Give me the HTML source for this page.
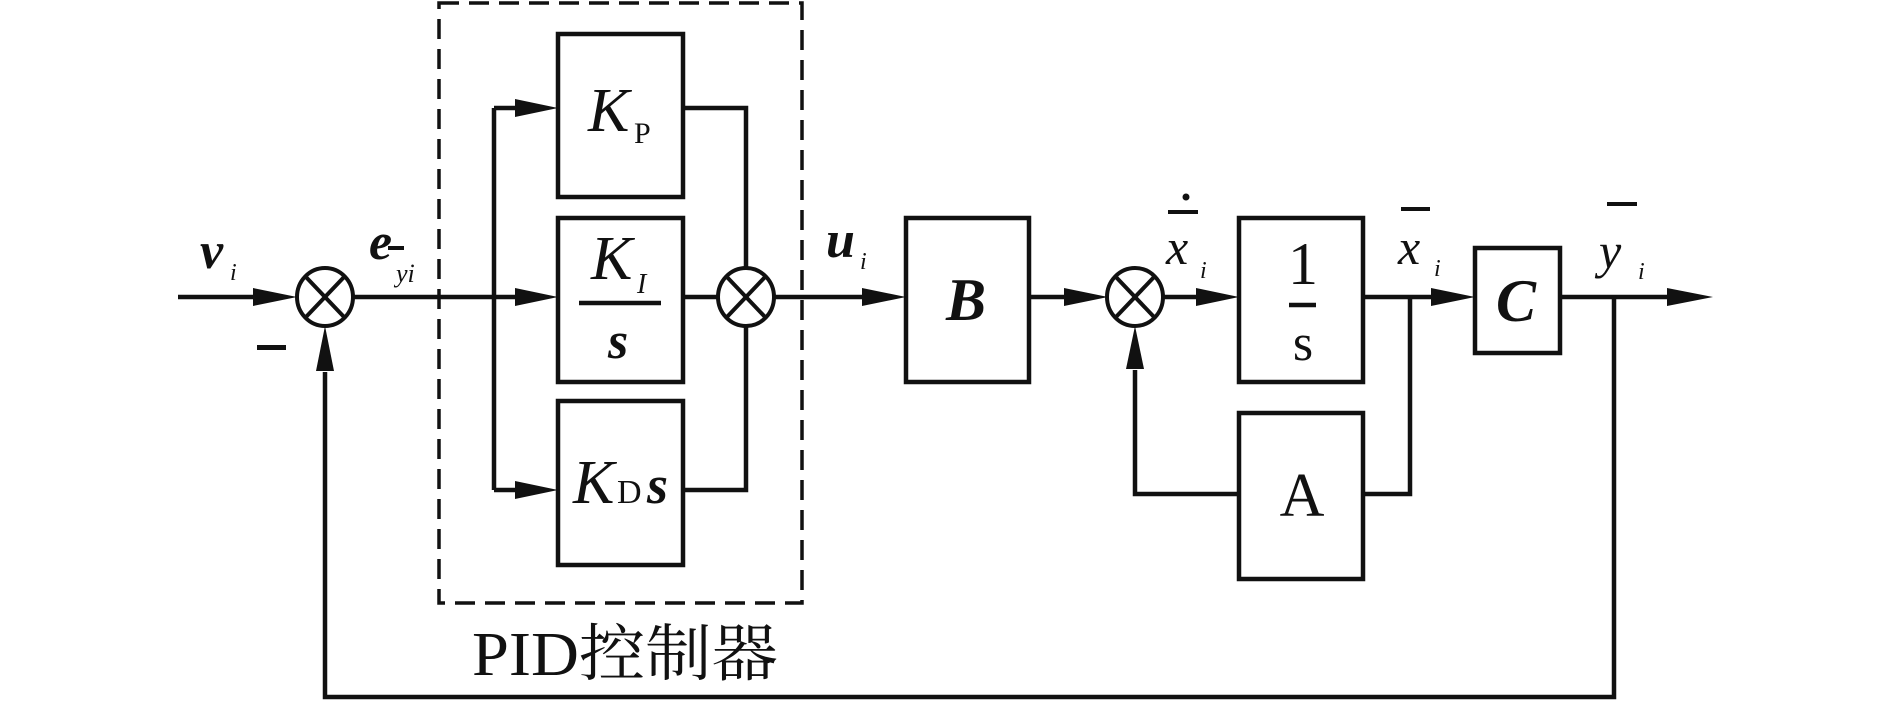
<!DOCTYPE html>
<html><head><meta charset="utf-8"><style>html,body{margin:0;padding:0;background:#fff}svg{display:block}</style></head>
<body>
<svg width="1889" height="701" viewBox="0 0 1889 701" xmlns="http://www.w3.org/2000/svg" font-family="'Liberation Serif','Noto Serif CJK SC',serif" fill="#111">
<g stroke="#111" stroke-width="4.5" fill="none">
<!-- dashed PID box -->
<rect x="439" y="3" width="363" height="600" stroke-dasharray="20,10" stroke-width="3.5"/>
<!-- input -->
<line x1="178" y1="297" x2="260" y2="297"/>
<!-- circle1 -->
<ellipse cx="325" cy="297" rx="28" ry="29" stroke-width="4"/>
<line x1="305" y1="276" x2="345" y2="318" stroke-width="4"/><line x1="345" y1="276" x2="305" y2="318" stroke-width="4"/>
<!-- to PID -->
<line x1="353" y1="297" x2="520" y2="297"/>
<line x1="494" y1="108" x2="494" y2="490"/>
<line x1="494" y1="108" x2="520" y2="108"/>
<line x1="494" y1="490" x2="520" y2="490"/>
<!-- boxes -->
<rect x="558" y="34" width="125" height="163"/>
<rect x="558" y="218" width="125" height="164"/>
<rect x="558" y="401" width="125" height="164"/>
<!-- right of PID -->
<polyline points="683,108 746,108 746,268"/>
<polyline points="683,490 746,490 746,326"/>
<line x1="683" y1="297" x2="718" y2="297"/>
<ellipse cx="746" cy="297" rx="28" ry="29" stroke-width="4"/>
<line x1="726" y1="276" x2="766" y2="318" stroke-width="4"/><line x1="766" y1="276" x2="726" y2="318" stroke-width="4"/>
<line x1="774" y1="297" x2="866" y2="297"/>
<!-- B -->
<rect x="906" y="218" width="123" height="164"/>
<line x1="1029" y1="297" x2="1068" y2="297"/>
<ellipse cx="1135" cy="297" rx="28" ry="29" stroke-width="4"/>
<line x1="1115" y1="276" x2="1155" y2="318" stroke-width="4"/><line x1="1155" y1="276" x2="1115" y2="318" stroke-width="4"/>
<line x1="1163" y1="297" x2="1200" y2="297"/>
<rect x="1239" y="218" width="124" height="164"/>
<line x1="1363" y1="297" x2="1435" y2="297"/>
<polyline points="1410,297 1410,494 1363,494"/>
<rect x="1239" y="413" width="124" height="166"/>
<polyline points="1239,494 1135,494 1135,370"/>
<rect x="1475" y="248" width="85" height="105"/>
<line x1="1560" y1="297" x2="1670" y2="297"/>
<polyline points="1614,297 1614,697 325,697 325,372"/>
<!-- fraction bars -->
<line x1="579" y1="303" x2="661" y2="303"/>
<line x1="1289" y1="305" x2="1316" y2="305"/>
</g>
<!-- arrowheads -->
<g fill="#111">
<polygon points="253,288 297,297 253,306"/>
<polygon points="515,99 558,108 515,117"/>
<polygon points="515,288 558,297 515,306"/>
<polygon points="515,481 558,490 515,499"/>
<polygon points="862,288 906,297 862,306"/>
<polygon points="1064,288 1108,297 1064,306"/>
<polygon points="1196,288 1239,297 1196,306"/>
<polygon points="1431,288 1475,297 1431,306"/>
<polygon points="1667,288 1713,297 1667,306"/>
<polygon points="316,371 325,326 334,371"/>
<polygon points="1126,369 1135,326 1144,369"/>
<rect x="257" y="345" width="29" height="5"/>
<!-- bars over labels -->
<rect x="388" y="246" width="16" height="4"/>
<rect x="1168" y="210" width="30" height="4"/>
<circle cx="1186" cy="197" r="3.5"/>
<rect x="1401" y="207" width="29" height="4"/>
<rect x="1607" y="202" width="30" height="4"/>
</g>
<!-- labels -->
<g font-style="italic">
<text x="200" y="268" font-size="52" font-weight="bold">v</text>
<text x="230" y="280" font-size="24">i</text>
<text x="369" y="259" font-size="52" font-weight="bold">e</text>
<text x="396" y="282" font-size="26">yi</text>
<text x="826" y="257" font-size="52" font-weight="bold">u</text>
<text x="860" y="269" font-size="24">i</text>
<text x="588" y="131" font-size="62">K</text>
<text x="634" y="143" font-size="30" font-style="normal">P</text>
<text x="591" y="279" font-size="62">K</text>
<text x="637" y="293" font-size="28">I</text>
<text x="608" y="358" font-size="52" font-weight="bold">s</text>
<text x="573" y="503" font-size="62">K</text>
<text x="617" y="503" font-size="34" font-style="normal">D</text>
<text x="647" y="503" font-size="54" font-weight="bold">s</text>
<text x="946" y="320" font-size="60" font-weight="bold">B</text>
<text x="1166" y="264" font-size="50">x</text>
<text x="1200" y="278" font-size="24">i</text>
<text x="1398" y="264" font-size="50">x</text>
<text x="1434" y="276" font-size="24">i</text>
<text x="1496" y="321" font-size="60" font-weight="bold">C</text>
<text x="1599" y="268" font-size="50">y</text>
<text x="1638" y="279" font-size="24">i</text>
</g>
<text x="1303" y="284" font-size="60" text-anchor="middle">1</text>
<text x="1303" y="360" font-size="52" text-anchor="middle">s</text>
<text x="1302" y="516" font-size="62" text-anchor="middle">A</text>
<text x="472" y="675" font-size="62" textLength="306" lengthAdjust="spacingAndGlyphs">PID控制器</text>
</svg>
</body></html>
